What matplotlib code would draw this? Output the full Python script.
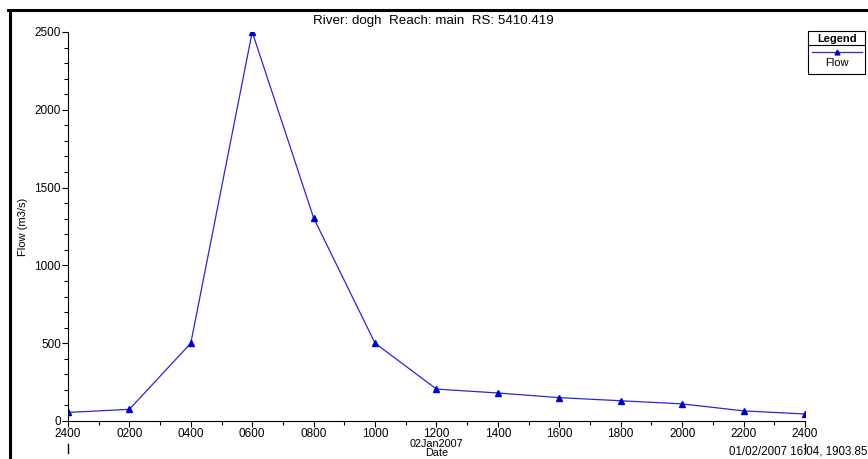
import numpy as np
import matplotlib.pyplot as plt
from matplotlib.lines import Line2D
from matplotlib.patches import Rectangle

plt.rcParams['font.family'] = ['Liberation Sans', 'DejaVu Sans']

# hours after 2400 on 01Jan2007
hours = [0, 2, 4, 6, 8, 10, 12, 14, 16, 18, 20, 22, 24]
flow = [55, 75, 500, 2500, 1305, 500, 205, 180, 150, 130, 110, 65, 45]
tick_labels = ['2400', '0200', '0400', '0600', '0800', '1000', '1200',
               '1400', '1600', '1800', '2000', '2200', '2400']

title = 'River: dogh  Reach: main  RS: 5410.419'
stamp = '01/02/2007 16:04, 1903.85'
col = '#2828d0'
fs = 8.5

fig = plt.figure(figsize=(8.68, 4.59), dpi=100)
ax = fig.add_axes([0.0783, 0.0828, 0.8491, 0.8475])

ax.plot(hours, flow, color=col, lw=0.9, marker='^', ms=4,
        markerfacecolor='#0000cc', markeredgecolor='#0000cc')

ax.set_xlim(0, 24)
ax.set_ylim(0, 2500)
ax.set_xticks(hours)
ax.set_xticklabels(tick_labels)
ax.set_xticks(np.arange(0, 25, 1), minor=True)
ax.set_yticks([0, 500, 1000, 1500, 2000, 2500])
ax.set_yticks(np.arange(0, 2501, 100), minor=True)
ax.tick_params(which='major', length=4, width=0.8, labelsize=fs, pad=1)
ax.tick_params(which='minor', length=3, width=0.8)
for s in ['top', 'right']:
    ax.spines[s].set_visible(False)
ax.set_ylabel('Flow (m3/s)', fontsize=8)
ax.yaxis.set_label_coords(-0.054, 0.5)

# day boundary marks and date text
xt = ax.get_xaxis_transform()
for d in [0, 24]:
    ax.add_line(Line2D([d, d], [-0.058, -0.083], transform=xt, color='black',
                       lw=1.0, clip_on=False))
ax.text(12, -0.060, '02Jan2007', transform=xt, ha='center', va='center',
        fontsize=7.8)
ax.text(12, -0.082, 'Date', transform=xt, ha='center', va='center',
        fontsize=7.8)
fig.text(0.999, 0.004, stamp, ha='right', va='bottom', fontsize=8.3)

fig.text(0.499, 0.955, title, ha='center', va='center', fontsize=9.6)

# legend box
fig.add_artist(Rectangle((0.931, 0.839), 0.066, 0.093, transform=fig.transFigure,
                         fill=False, lw=0.8, ec='black'))
fig.add_artist(Line2D([0.931, 0.997], [0.901, 0.901], transform=fig.transFigure,
                      color='black', lw=0.8))
fig.text(0.964, 0.916, 'Legend', ha='center', va='center', fontsize=8,
         fontweight='bold')
fig.add_artist(Line2D([0.935, 0.993], [0.886, 0.886], transform=fig.transFigure,
                      color=col, lw=0.9))
fig.add_artist(Line2D([0.964], [0.886], transform=fig.transFigure, marker='^',
                      ms=3.5, color='#0000cc', lw=0))
fig.text(0.964, 0.862, 'Flow', ha='center', va='center', fontsize=8)

# outer frame (top and left edges)
fig.add_artist(Line2D([0.009, 1.0], [0.978, 0.978], transform=fig.transFigure,
                      color='black', lw=2.2))
fig.add_artist(Line2D([0.011, 0.011], [0.0, 0.978], transform=fig.transFigure,
                      color='black', lw=2.2))

fig.savefig('out.png', dpi=100)
